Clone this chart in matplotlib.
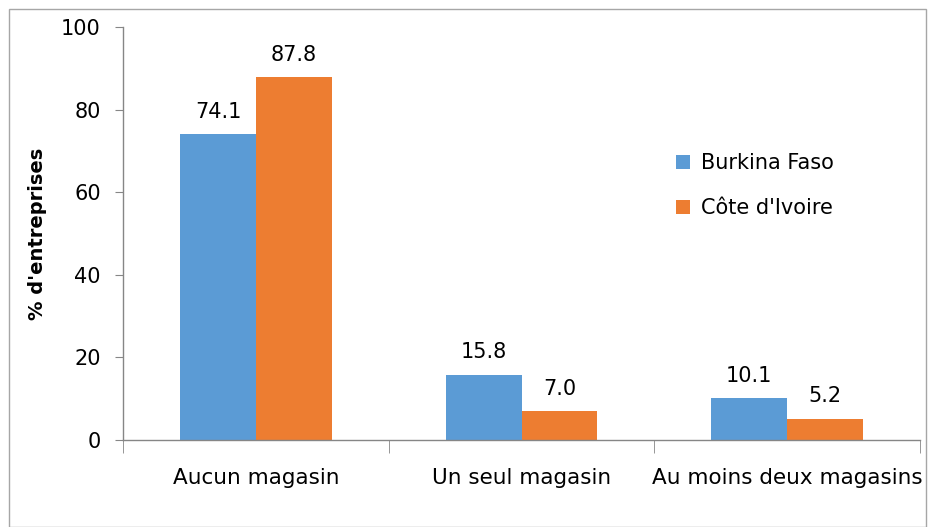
import matplotlib.pyplot as plt
import numpy as np
from matplotlib.patches import Rectangle

# data
categories = ['Aucun magasin', 'Un seul magasin', 'Au moins deux magasins']
series_names = ['Burkina Faso', "Côte d'Ivoire"]
burkina = [74.1, 15.8, 10.1]
cote_ivoire = [87.8, 7.0, 5.2]
yticks = [0, 20, 40, 60, 80, 100]

colors = ['#5B9BD5', '#ED7D31']
axis_grey = '#868686'

plt.rcParams['font.family'] = ['DejaVu Sans']

fig = plt.figure(figsize=(9.35, 5.27), dpi=100)
ax = fig.add_axes([123 / 935, 1 - 440 / 527, (920 - 123) / 935, (440 - 27) / 527])

# grey frame round the whole chart area
fig.patches.append(Rectangle((9 / 935, 0), 1 - 18 / 935, 1 - 9 / 527,
                             transform=fig.transFigure, fill=False,
                             edgecolor='#A6A6A6', linewidth=1.0))

x = np.arange(len(categories))
w = 0.285
b1 = ax.bar(x - w / 2, burkina, w, color=colors[0], label=series_names[0])
b2 = ax.bar(x + w / 2, cote_ivoire, w, color=colors[1], label=series_names[1])

for bars, vals in ((b1, burkina), (b2, cote_ivoire)):
    for rect, v in zip(bars, vals):
        ax.text(rect.get_x() + rect.get_width() / 2, v + 3.0, f'{v:.1f}',
                ha='center', va='bottom', fontsize=15, color='black')

ax.set_xlim(-0.5, 2.5)
ax.set_ylim(0, 100)
ax.set_yticks(yticks)
ax.tick_params(axis='y', labelsize=15, length=6, color=axis_grey, pad=10)

# category labels, ticks sit on the boundaries
ax.set_xticks(x)
ax.set_xticklabels(categories, fontsize=15.5)
ax.tick_params(axis='x', length=0, pad=20)
ax.set_xticks([-0.5, 0.5, 1.5, 2.5], minor=True)
ax.tick_params(axis='x', which='minor', length=9, color=axis_grey)

for side in ('top', 'right'):
    ax.spines[side].set_visible(False)
for side in ('left', 'bottom'):
    ax.spines[side].set_color(axis_grey)
    ax.spines[side].set_linewidth(1.0)

ax.set_ylabel("% d'entreprises", fontsize=14, fontweight='bold', labelpad=10)

ax.legend(loc='upper left', bbox_to_anchor=(0.67, 0.74), frameon=False,
          fontsize=15, handlelength=0.7, handleheight=0.7,
          labelspacing=1.2, handletextpad=0.5)

plt.savefig('out.png', dpi=100)
